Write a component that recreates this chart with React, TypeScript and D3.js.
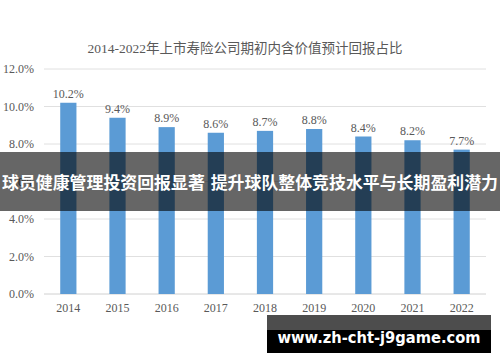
import React from 'react';
import * as d3 from 'd3';

const years = ['2014', '2015', '2016', '2017', '2018', '2019', '2020', '2021', '2022'];
const returnShare = [10.2, 9.4, 8.9, 8.6, 8.7, 8.8, 8.4, 8.2, 7.7];
const yTicks = [0, 2, 4, 6, 8, 10, 12];

const chartTitle = '2014-2022年上市寿险公司期初内含价值预计回报占比';
const bannerText = '球员健康管理投资回报显著 提升球队整体竞技水平与长期盈利潜力';
const siteText = 'www.zh-cht-j9game.com';

const width = 500;
const height = 362;

export default function App() {
  const x = d3.scaleBand<string>().domain(years).range([44, 486]).paddingInner(0.67).paddingOuter(0.33);
  const y = d3.scaleLinear().domain([0, 12]).range([294, 69]);

  const serif = '"Liberation Serif", "Noto Sans CJK SC", serif';
  const sans = '"DejaVu Sans", "Noto Sans CJK SC", sans-serif';

  return (
    <div style={{ position: 'fixed', left: 0, top: 0 }}>
      <svg width={width} height={height} style={{ display: 'block', background: '#fff' }}>
        <text x={245} y={53} textAnchor="middle" fontFamily={serif} fontSize={13.5} fill="#595959">
          {chartTitle}
        </text>

        {yTicks.map((t) => (
          <g key={t}>
            <line x1={44} x2={486} y1={y(t)} y2={y(t)} stroke={t === 0 ? '#d0d0d0' : '#e0e0e0'} strokeWidth={1} />
            <text x={34} y={y(t) + 4} textAnchor="end" fontFamily={serif} fontSize={12} fill="#595959">
              {t.toFixed(1)}%
            </text>
          </g>
        ))}

        {years.map((yr, i) => (
          <g key={yr}>
            <rect x={x(yr)} y={y(returnShare[i])} width={x.bandwidth()} height={y(0) - y(returnShare[i])} fill="#5b9bd5" />
            <text
              x={(x(yr) ?? 0) + x.bandwidth() / 2}
              y={y(returnShare[i]) - 5}
              textAnchor="middle"
              fontFamily={serif}
              fontSize={12}
              fill="#595959"
            >
              {returnShare[i].toFixed(1)}%
            </text>
            <text
              x={(x(yr) ?? 0) + x.bandwidth() / 2}
              y={312}
              textAnchor="middle"
              fontFamily={serif}
              fontSize={12}
              fill="#595959"
            >
              {yr}
            </text>
          </g>
        ))}

        {/* overlay banner */}
        <rect x={0} y={152} width={width} height={59} fill="rgba(0,0,0,0.6)" />
        <text
          x={250}
          y={189}
          textAnchor="middle"
          fontFamily={sans}
          fontWeight="bold"
          fontSize={16.5}
          fill="#fff"
          textLength={496}
          lengthAdjust="spacingAndGlyphs"
        >
          {bannerText}
        </text>

        {/* site label */}
        <rect x={267} y={315} width={224} height={38} fill="#000" />
        <rect x={267} y={315} width={224} height={15} fill="rgba(255,255,255,0.3)" />
        <text
          x={379}
          y={343}
          textAnchor="middle"
          fontFamily={sans}
          fontWeight="bold"
          fontSize={15}
          fill="#fff"
          textLength={203}
          lengthAdjust="spacingAndGlyphs"
        >
          {siteText}
        </text>
      </svg>
    </div>
  );
}
